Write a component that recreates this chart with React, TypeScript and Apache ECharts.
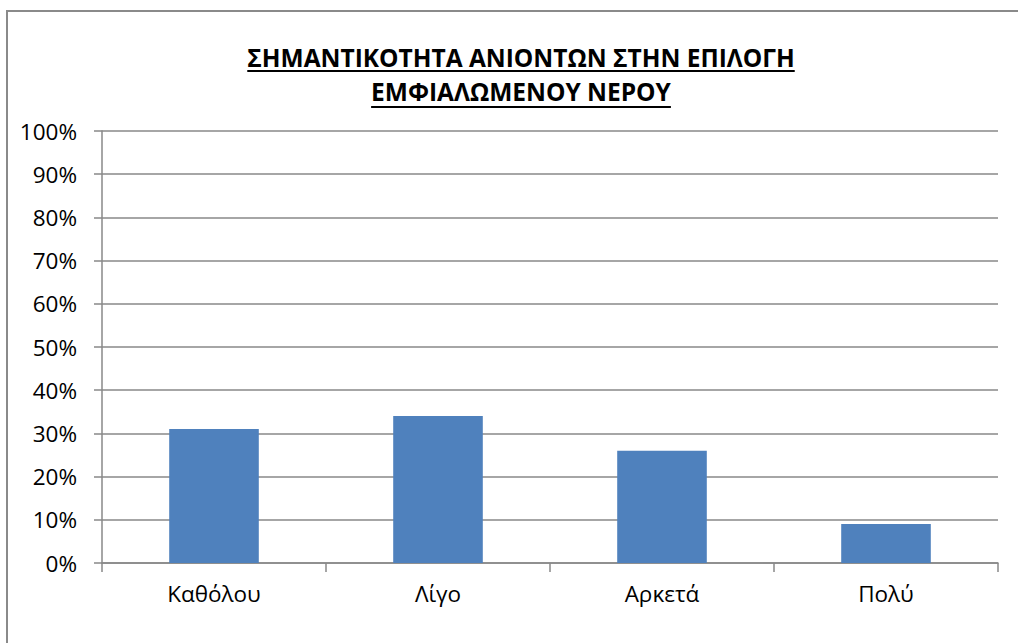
import React, { useEffect, useRef } from "react";
import * as echarts from "echarts";

const categories = ["Καθόλου", "Λίγο", "Αρκετά", "Πολύ"];
const values = [31, 34, 26, 9];
const titleLines = ["ΣΗΜΑΝΤΙΚΟΤΗΤΑ ΑΝΙΟΝΤΩΝ ΣΤΗΝ ΕΠΙΛΟΓΗ", "ΕΜΦΙΑΛΩΜΕΝΟΥ ΝΕΡΟΥ"];

const FONT = '"Open Sans", "Noto Sans", sans-serif';
const TITLE_FONT_SIZE = 24.5;

function measure(text: string, font: string): number {
  const c = document.createElement("canvas");
  const ctx = c.getContext("2d");
  if (!ctx) return text.length * 14;
  ctx.font = font;
  return ctx.measureText(text).width;
}

export default function App() {
  const ref = useRef<HTMLDivElement>(null);
  useEffect(() => {
    if (!ref.current) return;
    const chart = echarts.init(ref.current, undefined, { renderer: "svg" });
    const cx = 521;
    const centers = [57, 91];
    const underlineY = [71, 107];
    const graphics: any[] = [
      {
        type: "rect",
        shape: { x: 7, y: 11, width: 1200, height: 800 },
        style: { fill: "none", stroke: "#8a8a8a", lineWidth: 2 },
        silent: true,
      },
    ];
    titleLines.forEach((t, i) => {
      const font = `bold ${TITLE_FONT_SIZE}px ${FONT}`;
      const w = measure(t, font);
      graphics.push({
        type: "text",
        x: cx,
        y: centers[i],
        style: {
          text: t,
          font,
          fill: "#000",
          textAlign: "center",
          textVerticalAlign: "middle",
        },
      });
      graphics.push({
        type: "line",
        shape: { x1: cx - w / 2, y1: underlineY[i], x2: cx + w / 2, y2: underlineY[i] },
        style: { stroke: "#000", lineWidth: 2 },
      });
    });
    chart.setOption({
      animation: false,
      textStyle: { fontFamily: FONT },
      grid: { left: 102, right: 20, top: 131, bottom: 80, containLabel: false },
      xAxis: {
        type: "category",
        data: categories,
        axisLine: { show: true, lineStyle: { color: "#888", width: 1.5 } },
        axisTick: { show: true, alignWithLabel: false, length: 9, lineStyle: { color: "#888", width: 1.5 } },
        axisLabel: { color: "#000", fontSize: 22.5, margin: 19, fontFamily: FONT },
        splitLine: { show: false },
      },
      yAxis: {
        type: "value",
        min: 0,
        max: 100,
        interval: 10,
        axisLine: { show: true, lineStyle: { color: "#888", width: 1.5 } },
        axisTick: { show: true, length: 8, inside: false, lineStyle: { color: "#888", width: 1.5 } },
        axisLabel: { color: "#000", fontSize: 22.5, margin: 25, formatter: "{value}%", fontFamily: FONT },
        splitLine: { show: true, lineStyle: { color: "#888", width: 1.5 } },
      },
      series: [
        {
          type: "bar",
          data: values,
          barWidth: "40%",
          itemStyle: { color: "#4F81BD" },
        },
      ],
      graphic: graphics,
    });
    return () => chart.dispose();
  }, []);
  return (
    <div
      ref={ref}
      style={{ position: "absolute", left: 0, top: 0, width: 1018, height: 643, background: "#fff" }}
    />
  );
}
